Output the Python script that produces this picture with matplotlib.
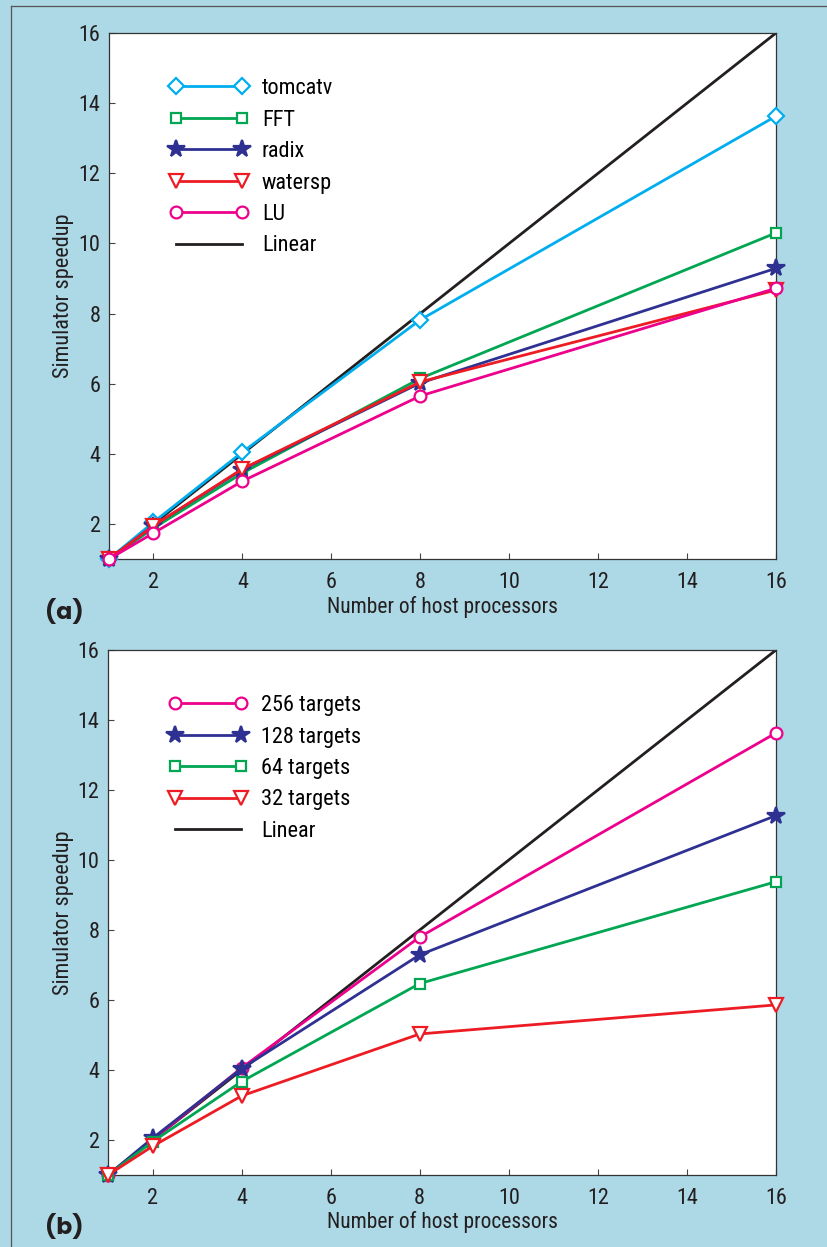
import matplotlib
matplotlib.use("Agg")
import matplotlib.pyplot as plt
from matplotlib.lines import Line2D

# host processors
procs = [1, 2, 4, 8, 16]

# (a) benchmarks
tomcatv = [1, 2.05, 4.05, 7.82, 13.63]
fft = [1, 1.88, 3.45, 6.15, 10.3]
radix = [1, 1.95, 3.55, 6.02, 9.29]
watersp = [1, 1.95, 3.57, 6.05, 8.67]
lu = [1, 1.74, 3.22, 5.65, 8.72]

# (b) target counts
t256 = [1, 2.0, 4.06, 7.8, 13.63]
t128 = [1, 2.05, 4.04, 7.29, 11.27]
t64 = [1, 1.95, 3.67, 6.47, 9.38]
t32 = [1, 1.82, 3.26, 5.03, 5.86]

linear = [1, 16]
ticks = [2, 4, 6, 8, 10, 12, 14, 16]

CYAN = "#00aeef"
GREEN = "#00a651"
NAVY = "#2e3192"
RED = "#ed1c24"
MAGENTA = "#ec008c"
BLACK = "#231f20"
BG = "#add8e6"

plt.rcParams["font.family"] = ["Roboto Condensed", "Archivo Narrow", "PT Sans Narrow", "DejaVu Sans"]
plt.rcParams["font.size"] = 16

W, H = 827, 1247
fig = plt.figure(figsize=(W / 100, H / 100), dpi=100, facecolor=BG)

# thin frame on top/left edge
fig.add_artist(Line2D([11 / W, 1.0], [1 - 6 / H] * 2, transform=fig.transFigure,
                      color="#555555", lw=0.9))
fig.add_artist(Line2D([11 / W] * 2, [0, 1 - 6 / H], transform=fig.transFigure,
                      color="#555555", lw=0.9))

styles = {
    "D": dict(ms=8.5, mfc="white"),
    "s": dict(ms=7.5, mfc="white"),
    "*": dict(ms=13, mfc=None),
    "v": dict(ms=10, mfc="white"),
    "o": dict(ms=8.5, mfc="white"),
}


def make_axes(box, series, label, label_y):
    ax = fig.add_axes(box)
    ax.set_facecolor("white")
    lin, = ax.plot(linear, linear, color=BLACK, lw=2.0, label="Linear", zorder=2)
    handles = []
    for vals, color, marker, name in series:
        kw = dict(styles[marker])
        mfc = kw.pop("mfc")
        h, = ax.plot(procs, vals, color=color, lw=2.0, marker=marker,
                     mfc=mfc if mfc else color, mec=color, mew=1.6,
                     label=name, clip_on=False, zorder=3, **kw)
        handles.append(h)
    handles.append(lin)
    ax.set_xlim(1, 16)
    ax.set_ylim(1, 16)
    ax.set_xticks(ticks)
    ax.set_yticks(ticks)
    ax.tick_params(direction="in", length=4.5, width=0.8, color="#444444",
                   labelsize=16, labelcolor="#231f20")
    ax.tick_params(axis="x", pad=9)
    ax.tick_params(axis="y", pad=6)
    for s in ax.spines.values():
        s.set_linewidth(0.9)
        s.set_color("#333333")
    ax.legend(handles=handles, loc="upper left", bbox_to_anchor=(0.0904, 0.914),
              frameon=False, numpoints=2, handlelength=3.57, handletextpad=0.6,
              labelspacing=0.47, borderpad=0, borderaxespad=0, fontsize=16)
    cy = box[1] + box[3] / 2
    fig.text(63 / W, cy, "Simulator speedup", rotation=90, ha="center", va="center",
             fontsize=16, color="#231f20")
    fig.text(box[0] + box[2] / 2, label_y, "Number of host processors",
             ha="center", va="center", fontsize=15.5, color="#231f20")
    fig.text(64 / W, label_y - 5 / H, label, ha="center", va="center",
             fontsize=17, fontweight="bold", family=["Poppins", "DejaVu Sans"],
             color="#231f20")
    return ax


series_a = [
    (tomcatv, CYAN, "D", "tomcatv"),
    (fft, GREEN, "s", "FFT"),
    (radix, NAVY, "*", "radix"),
    (watersp, RED, "v", "watersp"),
    (lu, MAGENTA, "o", "LU"),
]
series_b = [
    (t256, MAGENTA, "o", "256 targets"),
    (t128, NAVY, "*", "128 targets"),
    (t64, GREEN, "s", "64 targets"),
    (t32, RED, "v", "32 targets"),
]

make_axes([109 / W, (H - 559) / H, 667 / W, 526 / H], series_a, "(a)", (H - 607) / H)
make_axes([108 / W, (H - 1175) / H, 668 / W, 525 / H], series_b, "(b)", (H - 1222) / H)

fig.savefig("out.png", dpi=100, facecolor=BG)
